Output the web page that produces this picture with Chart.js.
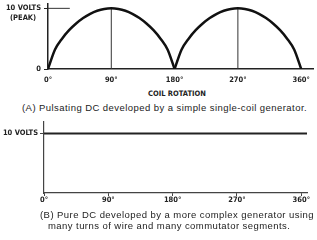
<!doctype html>
<html lang="en">
<head>
<meta charset="utf-8">
<title>Pulsating DC vs Pure DC</title>
<script src="https://cdn.jsdelivr.net/npm/chart.js@4.4.1/dist/chart.umd.min.js"></script>
<style>
  body { margin: 0; background: #fff; width: 317px; height: 240px; overflow: hidden; position: relative; }
  .box { position: absolute; }
  .lbl { position: absolute; font-family: 'Liberation Sans Narrow', 'DejaVu Sans Condensed', Roboto, sans-serif;
         font-weight: bold; font-size: 7.5px; color: #222; white-space: nowrap; line-height: 1; }
  .cap { position: absolute; font-family: 'Liberation Sans', Arial, sans-serif; font-size: 9.5px;
         color: #222; white-space: nowrap; line-height: 1; letter-spacing: 0.44px; }
</style>
</head>
<body>
<div class="box" style="left:0;top:-4px;width:317px;height:92px"><canvas id="chartA"></canvas></div>
<div class="box" style="left:0;top:115px;width:317px;height:95px"><canvas id="chartB"></canvas></div>

<div class="lbl" style="left:10px;top:14px">(PEAK)</div>
<div class="lbl" style="left:148px;top:90px">COIL ROTATION</div>
<div class="cap" style="left:22px;top:103px">(A) Pulsating DC developed by a simple single-coil generator.</div>
<div class="cap" style="left:40px;top:210px">(B) Pure DC developed by a more complex generator using</div>
<div class="cap" style="left:48px;top:221px">many turns of wire and many commutator segments.</div>

<script>
// rotation ticks shared by both charts
var rotationTicks = [0, 90, 180, 270, 360];

// (A) pulsating DC in 10 degree steps
var firstAngles  = [0, 10, 20, 30, 40, 50, 60, 70, 80, 90, 100, 110, 120, 130, 140, 150, 160, 170, 180];
var firstVolts   = [0, 3.2, 5.0, 6.4, 7.5, 8.4, 9.1, 9.6, 9.9, 10, 9.9, 9.6, 9.1, 8.4, 7.5, 6.4, 5.0, 3.2, 0];
var secondAngles = [180, 190, 200, 210, 220, 230, 240, 250, 260, 270, 280, 290, 300, 310, 320, 330, 340, 350, 360];
var secondVolts  = [0, 3.2, 5.0, 6.4, 7.5, 8.4, 9.1, 9.6, 9.9, 10, 9.9, 9.6, 9.1, 8.4, 7.5, 6.4, 5.0, 3.2, 0];

// guide lines in (A)
var peakGuideAngles = [0, 31];
var peakGuideVolts  = [10, 10];
var guideAngles = [90, 270];

// (B) pure DC
var pureAngles = [0, 368];
var pureVolts  = [10, 10];

var tickFont = { family: "'Liberation Sans Narrow', 'DejaVu Sans Condensed', Roboto, sans-serif", size: 7.5, weight: 'bold' };

function pts(xs, ys) {
  return xs.map(function (x, i) { return { x: x, y: ys[i] }; });
}

function degLabel(v) { return v + '\u00b0'; }

var datasetsA = [
  { data: pts(firstAngles, firstVolts), borderColor: '#111', borderWidth: 2.5, pointRadius: 0, tension: 0.4, cubicInterpolationMode: 'monotone' },
  { data: pts(secondAngles, secondVolts), borderColor: '#111', borderWidth: 2.5, pointRadius: 0, tension: 0.4, cubicInterpolationMode: 'monotone' },
  { data: pts(peakGuideAngles, peakGuideVolts), borderColor: '#333', borderWidth: 1, pointRadius: 0 }
];
guideAngles.forEach(function (a) {
  datasetsA.push({ data: [{ x: a, y: 0 }, { x: a, y: 10 }], borderColor: '#333', borderWidth: 1, pointRadius: 0 });
});

new Chart(document.getElementById('chartA'), {
  type: 'line',
  data: { datasets: datasetsA },
  options: {
    responsive: true, maintainAspectRatio: false, animation: false,
    layout: { padding: { top: 2, right: 2, left: 0, bottom: 0 } },
    plugins: { legend: { display: false }, tooltip: { enabled: false } },
    scales: {
      x: {
        type: 'linear', min: 0, max: 377,
        afterBuildTicks: function (s) { s.ticks = rotationTicks.map(function (v) { return { value: v }; }); },
        afterFit: function (s) { s.height = 19; },
        grid: { drawOnChartArea: false, drawTicks: false },
        border: { color: '#222', width: 1.5 },
        ticks: { color: '#222', font: tickFont, padding: 7, maxRotation: 0, callback: degLabel }
      },
      y: {
        min: 0, max: 10.8,
        afterBuildTicks: function (s) { s.ticks = [{ value: 0 }, { value: 10 }]; },
        afterFit: function (s) { s.width = 48; },
        grid: { drawOnChartArea: false, tickLength: 4, color: '#222' },
        border: { color: '#222', width: 1.5 },
        ticks: { color: '#222', font: tickFont, padding: 3, callback: function (v) { return v === 10 ? '10 VOLTS' : '0'; } }
      }
    }
  }
});

new Chart(document.getElementById('chartB'), {
  type: 'line',
  data: { datasets: [
    { data: pts(pureAngles, pureVolts), borderColor: '#222', borderWidth: 2, pointRadius: 0 }
  ] },
  options: {
    responsive: true, maintainAspectRatio: false, animation: false,
    layout: { padding: { top: 5, right: 10, left: 0, bottom: 0 } },
    plugins: { legend: { display: false }, tooltip: { enabled: false } },
    scales: {
      x: {
        type: 'linear', min: 0, max: 368,
        afterBuildTicks: function (s) { s.ticks = rotationTicks.map(function (v) { return { value: v }; }); },
        afterFit: function (s) { s.height = 17; },
        grid: { drawOnChartArea: false, tickLength: 3, color: '#444' },
        border: { color: '#444', width: 1.2 },
        ticks: { color: '#222', font: tickFont, padding: 0, maxRotation: 0, callback: degLabel }
      },
      y: {
        min: 0, max: 12,
        afterBuildTicks: function (s) { s.ticks = [{ value: 10 }]; },
        afterFit: function (s) { s.width = 44; },
        grid: { drawOnChartArea: false, tickLength: 4, color: '#444' },
        border: { color: '#444', width: 1.2 },
        ticks: { color: '#222', font: tickFont, padding: 2, callback: function () { return '10 VOLTS'; } }
      }
    }
  }
});
</script>
</body>
</html>
